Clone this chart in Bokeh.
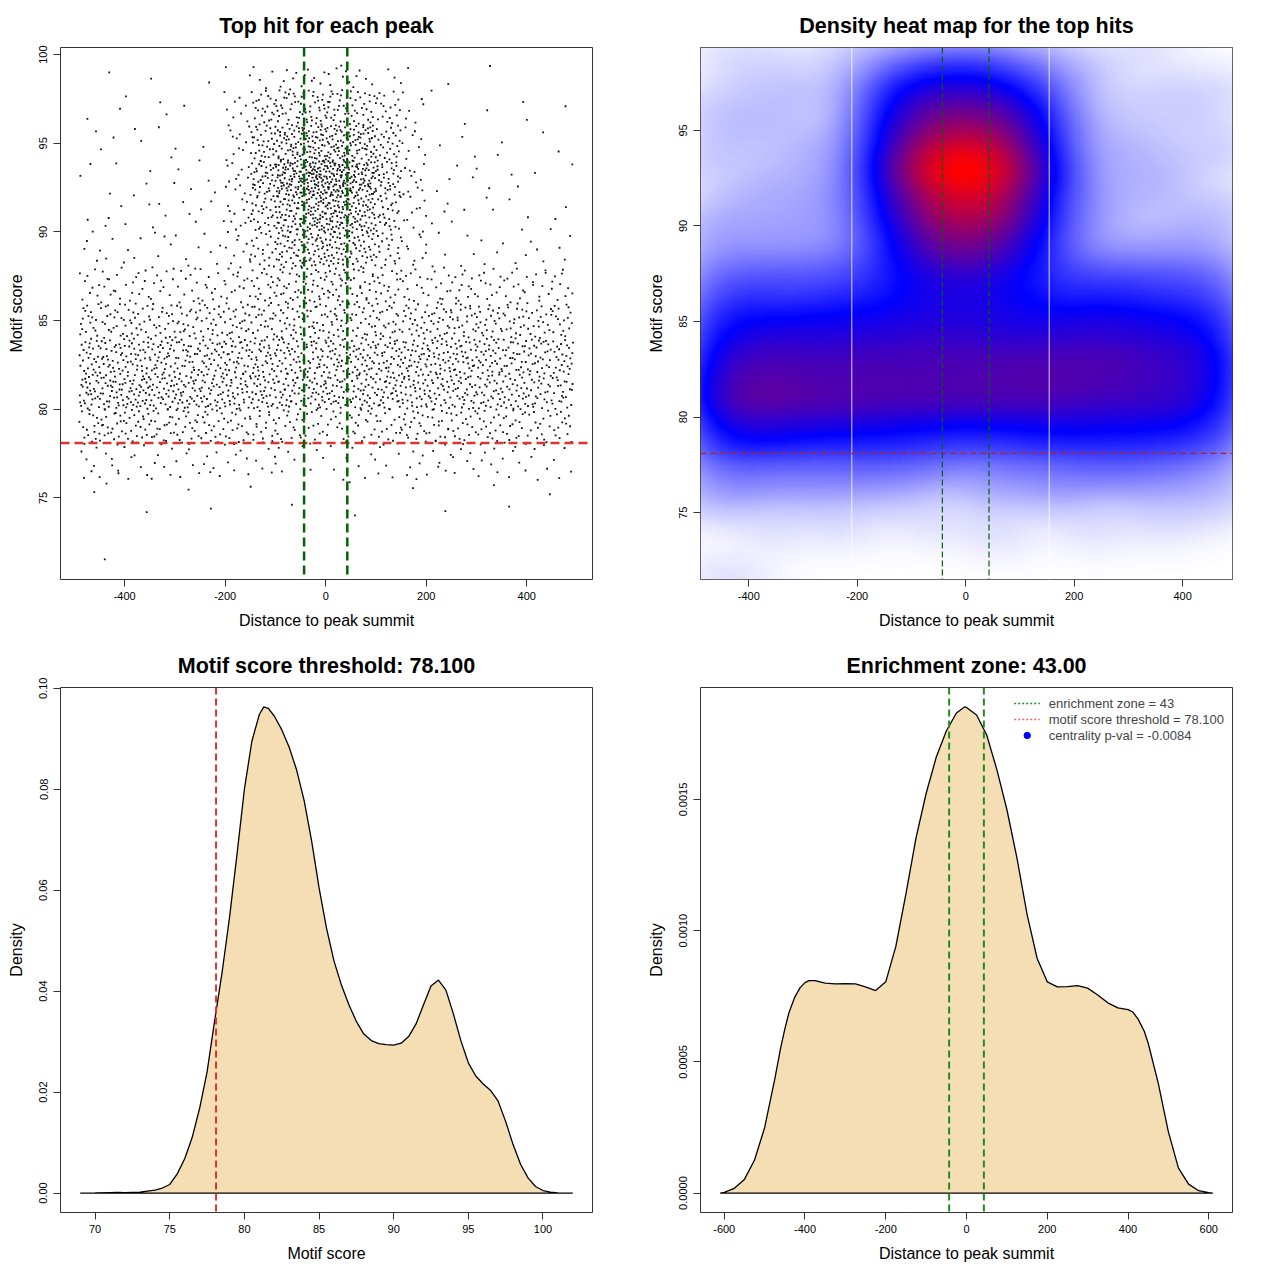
import numpy as np
from bokeh.plotting import figure
from bokeh.layouts import column, row
from bokeh.models import (FixedTicker, PrintfTickFormatter, Span, Legend, LegendItem,
                          LinearColorMapper, ColumnDataSource, Range1d)
from bokeh.embed import file_html
from bokeh.resources import INLINE

# ------------------------------------------------------------------ data
threshold = 78.1          # motif score threshold
zone = 43                 # enrichment zone half-width
centrality_pval = "-0.0084"

# scatter: counts of top hits per cell
x_edges = [-490, -450, -400, -350, -300, -250, -200, -150, -100, -50, 0,
           50, 100, 150, 200, 250, 300, 350, 400, 450, 492]
y_edges = [99.4, 98, 96, 94, 92, 90, 88, 86, 84, 82, 80, 78, 76, 74, 72, 71.4]  # top -> bottom
counts = [
    [0, 1, 0, 1, 0, 1, 2, 4, 6, 7, 7, 5, 3, 1, 1, 0, 1, 0, 0, 0],            # 98-99.4
    [1, 1, 1, 2, 1, 1, 8, 22, 27, 30, 29, 24, 17, 6, 1, 1, 1, 1, 1, 1],       # 96-98
    [1, 2, 2, 2, 2, 1, 10, 32, 45, 52, 52, 44, 27, 9, 1, 2, 1, 1, 1, 1],      # 94-96
    [2, 2, 2, 2, 2, 2, 12, 40, 66, 85, 84, 63, 36, 11, 2, 2, 2, 2, 1, 1],     # 92-94
    [2, 3, 2, 3, 3, 3, 11, 28, 48, 60, 60, 48, 26, 10, 3, 2, 2, 2, 2, 2],     # 90-92
    [3, 4, 3, 4, 4, 4, 10, 20, 35, 42, 41, 32, 20, 9, 4, 3, 3, 3, 3, 3],      # 88-90
    [9, 11, 11, 11, 11, 11, 14, 18, 22, 25, 25, 21, 18, 13, 13, 13, 12, 11, 11, 9],    # 86-88
    [17, 20, 21, 21, 21, 22, 22, 23, 24, 25, 25, 23, 22, 22, 24, 24, 22, 21, 20, 17],  # 84-86
    [25, 30, 32, 31, 30, 31, 32, 32, 32, 32, 32, 32, 32, 32, 34, 33, 32, 30, 28, 24],  # 82-84
    [29, 37, 38, 36, 35, 34, 34, 34, 33, 33, 33, 34, 34, 34, 31, 32, 30, 29, 27, 22],  # 80-82
    [17, 22, 22, 20, 20, 20, 19, 18, 16, 15, 15, 16, 18, 19, 19, 18, 18, 17, 15, 13],  # 78-80
    [6, 7, 6, 6, 6, 6, 6, 5, 5, 4, 4, 5, 5, 6, 6, 6, 6, 6, 5, 4],            # 76-78
    [1, 1, 1, 0, 1, 1, 0, 1, 1, 0, 1, 1, 0, 1, 1, 0, 1, 1, 1, 0],            # 74-76
    [0, 0, 0, 0, 0, 0, 0, 0, 0, 0, 0, 0, 0, 0, 0, 0, 0, 0, 0, 0],            # 72-74
    [0, 1, 0, 0, 0, 0, 0, 0, 0, 0, 0, 0, 0, 0, 0, 0, 0, 0, 0, 0],            # 71.4-72
]

# density of motif scores (bottom left)
motif_x = [69, 70, 71, 71.5, 72, 73, 74, 74.5, 75, 75.5, 76, 76.5, 77, 77.5, 78, 78.5,
           79, 79.5, 80, 80.5, 81, 81.3, 81.6, 82, 82.5, 83, 83.5, 84, 84.5, 85, 85.5,
           86, 86.5, 87, 87.5, 88, 88.5, 89, 89.5, 90, 90.5, 91, 91.5, 92, 92.5, 93,
           93.5, 94, 94.5, 95, 95.5, 96, 96.5, 97, 97.5, 98, 98.5, 99, 99.5, 100,
           100.5, 101, 102]
motif_d = [0, 0.00003, 0.0001, 0.00012, 0.0001, 0.0002, 0.0006, 0.001, 0.0017, 0.0038,
           0.0068, 0.011, 0.0168, 0.024, 0.034, 0.0436, 0.0545, 0.067, 0.080, 0.0895,
           0.0948, 0.0963, 0.096, 0.0945, 0.0918, 0.0883, 0.0838, 0.0778, 0.0698,
           0.0605, 0.0525, 0.046, 0.0412, 0.0373, 0.034, 0.0315, 0.0302, 0.0296,
           0.0294, 0.0293, 0.0297, 0.031, 0.0335, 0.0373, 0.041, 0.0422, 0.0402,
           0.0355, 0.0302, 0.0258, 0.0232, 0.0216, 0.0203, 0.0182, 0.0142, 0.0096,
           0.0057, 0.003, 0.0013, 0.0005, 0.0002, 0.00005, 0]

# density of distances to the summit (bottom right)
dist_x = [-610, -600, -575, -550, -525, -500, -475, -460, -450, -440, -425, -412, -400,
          -390, -375, -350, -325, -300, -275, -250, -225, -200, -175, -150, -125, -100,
          -75, -50, -25, -5, 0, 25, 50, 75, 100, 125, 150, 175, 200, 225, 250, 275, 300,
          325, 350, 375, 400, 412, 425, 440, 450, 475, 500, 525, 550, 575, 600, 610]
dist_d = [0, 0.000003, 0.000018, 0.000052, 0.000126, 0.000249, 0.000433, 0.000555,
          0.000625, 0.000686, 0.000748, 0.000783, 0.000802, 0.00081, 0.00081, 0.0008,
          0.000797, 0.000798, 0.000797, 0.000786, 0.000772, 0.000805, 0.00094, 0.00114,
          0.001354, 0.001523, 0.001661, 0.001761, 0.00183, 0.001853, 0.001851, 0.001822,
          0.001746, 0.001615, 0.001462, 0.001277, 0.001062, 0.000894, 0.000805,
          0.000786, 0.000787, 0.000791, 0.000781, 0.000755, 0.000725, 0.000706,
          0.000699, 0.000690, 0.000663, 0.000618, 0.000571, 0.000418, 0.000233,
          0.000095, 0.000034, 0.000009, 0.000002, 0]

seam_x = [-210, 154]      # faint white seams in the heat map image

# ------------------------------------------------------------------ helpers
FONT = "Liberation Sans"


def make_fig(w, h, xr, yr, left, right, top, bottom):
    p = figure(width=w, height=h, x_range=Range1d(*xr), y_range=Range1d(*yr),
               output_backend="svg", toolbar_location=None,
               min_border_left=left, min_border_right=right,
               min_border_top=top, min_border_bottom=bottom)
    p.background_fill_color = "white"
    p.border_fill_color = "white"
    p.outline_line_color = "#333333"
    p.outline_line_width = 1
    p.outline_line_alpha = 1
    p.grid.visible = False
    return p


def style(p, title, xlabel, ylabel, xticks, yticks, xfmt, yfmt):
    p.title.text = title
    p.title.align = "center"
    p.title.text_font = FONT
    p.title.text_font_size = "21.5px"
    p.title.text_font_style = "bold"
    p.title.text_color = "black"
    p.title.standoff = 20
    for ax, lab, ticks, fmt in ((p.xaxis[0], xlabel, xticks, xfmt),
                                (p.yaxis[0], ylabel, yticks, yfmt)):
        ax.axis_label = lab
        ax.ticker = FixedTicker(ticks=ticks)
        ax.formatter = PrintfTickFormatter(format=fmt)
        ax.axis_line_color = None
        ax.major_tick_line_color = "#333333"
        ax.major_tick_out = 7
        ax.major_tick_in = 0
        ax.minor_tick_out = 0
        ax.minor_tick_in = 0
        ax.major_label_text_font = FONT
        ax.major_label_text_font_size = "11px"
        ax.major_label_text_color = "black"
        ax.axis_label_text_font = FONT
        ax.axis_label_text_font_size = "16px"
        ax.axis_label_text_font_style = "normal"
        ax.axis_label_text_color = "black"
    p.xaxis[0].major_label_standoff = 5
    p.xaxis[0].axis_label_standoff = 9
    p.yaxis[0].major_label_standoff = 6
    p.yaxis[0].axis_label_standoff = 12
    p.yaxis[0].major_label_orientation = "vertical"


def radical_inverse(n, base):
    f, r = 1.0, 0.0
    while n > 0:
        f /= base
        r += f * (n % base)
        n //= base
    return r


# ------------------------------------------------------------------ scatter points
px, py = [], []
for r in range(len(counts)):
    y_hi, y_lo = y_edges[r], y_edges[r + 1]
    for c in range(len(x_edges) - 1):
        x_lo, x_hi = x_edges[c], x_edges[c + 1]
        n = counts[r][c]
        start = 1 + 37 * c + 101 * r
        for k in range(n):
            px.append(x_lo + radical_inverse(start + k, 2) * (x_hi - x_lo))
            py.append(y_lo + radical_inverse(start + k, 3) * (y_hi - y_lo))
px = np.array(px)
py = np.array(py)

# ------------------------------------------------------------------ panel 1: scatter
p1 = make_fig(640, 640, (-527.6, 530.8), (70.4, 100.4), 60, 48, 47, 61)
style(p1, "Top hit for each peak", "Distance to peak summit", "Motif score",
      [-400, -200, 0, 200, 400], [75, 80, 85, 90, 95, 100], "%d", "%d")
p1.scatter(px, py, marker="square", size=1.8, fill_color="#111111", line_color=None)
p1.add_layout(Span(location=threshold, dimension="width", line_color="#DD3333",
                   line_width=2.5, line_dash="9 5"))
for z in (-zone, zone):
    p1.add_layout(Span(location=z, dimension="height", line_color="#006400",
                       line_width=2.5, line_dash="9 5"))

# ------------------------------------------------------------------ panel 2: heat map
hx0, hx1, hy0, hy1 = -489.0, 492.0, 71.5, 99.34
p2 = make_fig(624, 640, (hx0, hx1), (hy0, hy1), 60, 32, 47, 61)
style(p2, "Density heat map for the top hits", "Distance to peak summit", "Motif score",
      [-400, -200, 0, 200, 400], [75, 80, 85, 90, 95], "%d", "%d")
nx, ny = 260, 260
gx = np.linspace(hx0, hx1, nx)
gy = np.linspace(hy0, hy1, ny)
bwx, bwy = 50.0, 0.85
Kx = np.exp(-0.5 * ((gx[:, None] - px[None, :]) / bwx) ** 2)
Ky = np.exp(-0.5 * ((gy[:, None] - py[None, :]) / bwy) ** 2)
dens = Ky @ Kx.T
tval = (dens / dens.max()) ** 0.55
pal = []
for i in range(256):
    t = i / 255.0
    if t < 0.5:
        s = t / 0.5
        rgb = (255 * (1 - s), 255 * (1 - s), 255)
    else:
        s = (t - 0.5) / 0.5
        rgb = (255 * s, 0, 255 * (1 - s))
    pal.append("#%02x%02x%02x" % tuple(int(round(v)) for v in rgb))
mapper = LinearColorMapper(palette=pal, low=0, high=1)
p2.image(image=[tval], x=hx0, y=hy0, dw=hx1 - hx0, dh=hy1 - hy0, color_mapper=mapper)
for sx in seam_x:
    p2.add_layout(Span(location=sx, dimension="height", line_color="white",
                       line_width=1, line_alpha=0.8))
p2.add_layout(Span(location=threshold, dimension="width", line_color="#B22222",
                   line_width=1.2, line_dash="6 4"))
for z in (-zone, zone):
    p2.add_layout(Span(location=z, dimension="height", line_color="#006400",
                       line_width=1.2, line_dash="6 3"))

# ------------------------------------------------------------------ panel 3: motif score density
p3 = make_fig(640, 624, (67.68, 103.32), (-0.00385, 0.10015), 60, 48, 47, 51)
style(p3, "Motif score threshold: %.3f" % threshold, "Motif score", "Density",
      [70, 75, 80, 85, 90, 95, 100], [0, 0.02, 0.04, 0.06, 0.08, 0.10], "%d", "%.2f")
p3.patch(motif_x, motif_d, fill_color="#F5DEB3", line_color="black", line_width=1.3)
p3.add_layout(Span(location=threshold, dimension="height", line_color="#DD3333",
                   line_width=2, line_dash="7 4"))

# ------------------------------------------------------------------ panel 4: distance density
p4 = make_fig(624, 624, (-658.8, 658.8), (-0.0000741, 0.001927), 60, 32, 47, 51)
style(p4, "Enrichment zone: %.2f" % zone, "Distance to peak summit", "Density",
      [-600, -400, -200, 0, 200, 400, 600], [0, 0.0005, 0.0010, 0.0015], "%d", "%.4f")
p4.patch(dist_x, dist_d, fill_color="#F5DEB3", line_color="black", line_width=1.3)
for z in (-zone, zone):
    p4.add_layout(Span(location=z, dimension="height", line_color="#228B22",
                       line_width=2, line_dash="7 4"))
# legend-only renderers, placed outside the visible range
off = ColumnDataSource(data=dict(x=[-5000, -4990], y=[-1, -1]))
lg1 = p4.line("x", "y", source=off, line_color="#228B22", line_width=1.6, line_dash="2 2")
lg2 = p4.line("x", "y", source=off, line_color="#F06060", line_width=1.6, line_dash="2 2")
lg3 = p4.scatter("x", "y", source=off, marker="circle", size=6, fill_color="blue",
                 line_color="blue")
legend = Legend(items=[
    LegendItem(label="enrichment zone = %d" % zone, renderers=[lg1]),
    LegendItem(label="motif score threshold = %.3f" % threshold, renderers=[lg2]),
    LegendItem(label="centrality p-val = %s" % centrality_pval, renderers=[lg3]),
], location="top_right")
legend.border_line_alpha = 0
legend.background_fill_alpha = 0
legend.label_text_font = FONT
legend.label_text_font_size = "13px"
legend.glyph_width = 26
legend.glyph_height = 16
legend.label_height = 16
legend.spacing = 0
legend.padding = 4
legend.margin = 4
legend.label_standoff = 9
p4.add_layout(legend)

layout = column(row(p1, p2), row(p3, p4))
open("out.html", "w").write(file_html(layout, INLINE))
